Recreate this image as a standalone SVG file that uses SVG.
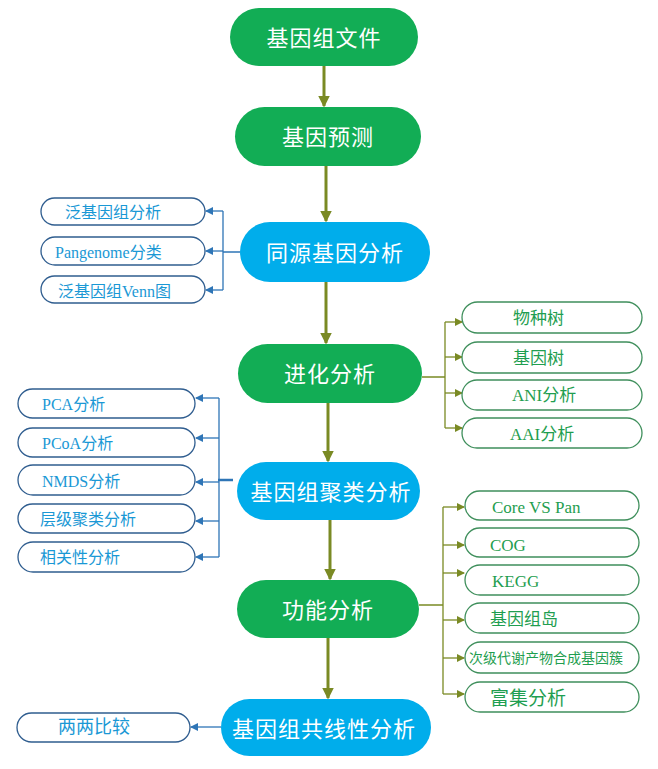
<svg xmlns="http://www.w3.org/2000/svg" width="658" height="769" viewBox="0 0 658 769">
<style>
.g{fill:#12ad55}
.b{fill:#00adeb}
.mt{fill:#fff;font-family:"Liberation Serif","Noto Sans CJK SC",serif;font-size:22px;text-anchor:middle;dominant-baseline:central;letter-spacing:1px}
.lb{fill:#fff;stroke:#2f5d8f;stroke-width:1.3}
.rb{fill:#fff;stroke:#3f8f5c;stroke-width:1.3}
.lt{fill:#1a98d5;font-family:"Liberation Serif","Noto Sans CJK SC",serif;font-size:16px;dominant-baseline:central}
.rt{fill:#1f9e50;font-family:"Liberation Serif","Noto Sans CJK SC",serif;font-size:17px;dominant-baseline:central}
.ma{stroke:#7a8a24;stroke-width:3;fill:none}
.bl{stroke:#2e75b6;stroke-width:1.3;fill:none}
.ol{stroke:#7a8a24;stroke-width:1.3;fill:none}
</style>
<defs>
<marker id="ah" markerWidth="4" markerHeight="4" refX="3.5" refY="2" orient="auto" markerUnits="strokeWidth"><path d="M0,0 L4,2 L0,4 z" fill="#7a8a24"/></marker>
<marker id="ab" markerWidth="8" markerHeight="8" refX="7" refY="4" orient="auto" markerUnits="userSpaceOnUse"><path d="M0,0 L8,4 L0,8 z" fill="#2e75b6"/></marker>
<marker id="ao" markerWidth="8" markerHeight="8" refX="7" refY="4" orient="auto" markerUnits="userSpaceOnUse"><path d="M0,0 L8,4 L0,8 z" fill="#7a8a24"/></marker>
</defs>
<g id="connectors">
<path class="ma" d="M324,66 V106" marker-end="url(#ah)"/>
<path class="ma" d="M326,166 V221" marker-end="url(#ah)"/>
<path class="ma" d="M326,282 V343" marker-end="url(#ah)"/>
<path class="ma" d="M328,403 V461" marker-end="url(#ah)"/>
<path class="ma" d="M330,520 V579" marker-end="url(#ah)"/>
<path class="ma" d="M328,638 V698" marker-end="url(#ah)"/>
<path class="bl" d="M240,252 H223 M223,211 V290"/>
<path class="bl" d="M223,211 H206" marker-end="url(#ab)"/>
<path class="bl" d="M223,251 H206" marker-end="url(#ab)"/>
<path class="bl" d="M223,290 H206" marker-end="url(#ab)"/>
<path class="ol" d="M422,377 H445 M445,322 V428"/>
<path class="ol" d="M445,322 H462" marker-end="url(#ao)"/>
<path class="ol" d="M445,357 H462" marker-end="url(#ao)"/>
<path class="ol" d="M445,393 H462" marker-end="url(#ao)"/>
<path class="ol" d="M445,428 H462" marker-end="url(#ao)"/>
<path class="bl" d="M219,398 V557"/>
<path d="M218,480 H233" stroke="#2e75b6" stroke-width="2.5"/>
<path class="bl" d="M219,398 H196" marker-end="url(#ab)"/>
<path class="bl" d="M219,438 H196" marker-end="url(#ab)"/>
<path class="bl" d="M219,482 H196" marker-end="url(#ab)"/>
<path class="bl" d="M219,521 H196" marker-end="url(#ab)"/>
<path class="bl" d="M219,557 H196" marker-end="url(#ab)"/>
<path class="ol" d="M419,605 H443 M443,507 V694"/>
<path class="ol" d="M443,507 H464" marker-end="url(#ao)"/>
<path class="ol" d="M443,545 H464" marker-end="url(#ao)"/>
<path class="ol" d="M443,573 H464" marker-end="url(#ao)"/>
<path class="ol" d="M443,620 H464" marker-end="url(#ao)"/>
<path class="ol" d="M443,658 H464" marker-end="url(#ao)"/>
<path class="ol" d="M443,694 H464" marker-end="url(#ao)"/>
<path class="bl" d="M221,727 H191" marker-end="url(#ab)"/>
</g>
<g id="n1"><rect class="g" x="230" y="8" width="188" height="58" rx="29"/><text class="mt" x="324" y="38">基因组文件</text></g>
<g id="n2"><rect class="g" x="235" y="107" width="186" height="59" rx="29.5"/><text class="mt" x="328" y="137">基因预测</text></g>
<g id="n3"><rect class="b" x="240" y="222" width="190" height="60" rx="30"/><text class="mt" x="335" y="253">同源基因分析</text></g>
<g id="n4"><rect class="g" x="238" y="344" width="184" height="59" rx="29.5"/><text class="mt" x="330" y="374">进化分析</text></g>
<g id="n5"><rect class="b" x="237" y="462" width="183" height="58" rx="29"/><text class="mt" x="331" y="492">基因组聚类分析</text></g>
<g id="n6"><rect class="g" x="237" y="580" width="182" height="58" rx="29"/><text class="mt" x="328" y="610">功能分析</text></g>
<g id="n7"><rect class="b" x="221" y="699" width="210" height="57" rx="28.5"/><text class="mt" x="324" y="729">基因组共线性分析</text></g>
<g id="l1"><rect class="lb" x="41" y="198" width="164" height="27" rx="13.5"/><text class="lt" x="65" y="212">泛基因组分析</text></g>
<g id="l2"><rect class="lb" x="41" y="237" width="164" height="28" rx="14"/><text class="lt" x="55" y="252">Pangenome分类</text></g>
<g id="l3"><rect class="lb" x="41" y="276" width="164" height="27" rx="13.5"/><text class="lt" x="58" y="291">泛基因组Venn图</text></g>
<g id="r1"><rect class="rb" x="462" y="302" width="180" height="31" rx="15.5"/><text class="rt" x="513" y="318">物种树</text></g>
<g id="r2"><rect class="rb" x="462" y="342" width="180" height="31" rx="15.5"/><text class="rt" x="513" y="358">基因树</text></g>
<g id="r3"><rect class="rb" x="462" y="380" width="180" height="30" rx="15"/><text class="rt" x="512" y="395">ANI分析</text></g>
<g id="r4"><rect class="rb" x="462" y="418" width="180" height="30" rx="15"/><text class="rt" x="510" y="434">AAI分析</text></g>
<g id="c1"><rect class="lb" x="18" y="389" width="177" height="29" rx="14.5"/><text class="lt" x="42" y="404">PCA分析</text></g>
<g id="c2"><rect class="lb" x="18" y="428" width="177" height="29" rx="14.5"/><text class="lt" x="42" y="443">PCoA分析</text></g>
<g id="c3"><rect class="lb" x="18" y="465" width="177" height="30" rx="15"/><text class="lt" x="42" y="481">NMDS分析</text></g>
<g id="c4"><rect class="lb" x="18" y="504" width="177" height="29" rx="14.5"/><text class="lt" x="40" y="519">层级聚类分析</text></g>
<g id="c5"><rect class="lb" x="18" y="542" width="177" height="30" rx="15"/><text class="lt" x="40" y="557">相关性分析</text></g>
<g id="f1"><rect class="rb" x="465" y="491" width="174" height="29" rx="14.5"/><text class="rt" x="492" y="507">Core VS Pan</text></g>
<g id="f2"><rect class="rb" x="465" y="528" width="174" height="29" rx="14.5"/><text class="rt" x="490" y="545">COG</text></g>
<g id="f3"><rect class="rb" x="465" y="565" width="174" height="30" rx="15"/><text class="rt" x="492" y="581">KEGG</text></g>
<g id="f4"><rect class="rb" x="465" y="603" width="174" height="30" rx="15"/><text class="rt" x="490" y="619">基因组岛</text></g>
<g id="f5"><rect class="rb" x="465" y="642" width="174" height="31" rx="15.5"/><text class="rt" x="469" y="658" style="font-size:14px">次级代谢产物合成基因簇</text></g>
<g id="f6"><rect class="rb" x="465" y="682" width="174" height="30" rx="15"/><text class="rt" x="490" y="698" style="font-size:19px">富集分析</text></g>
<g id="s1"><rect class="lb" x="17" y="713" width="173" height="29" rx="14.5"/><text class="lt" x="58" y="727" style="font-size:18px">两两比较</text></g>
</svg>
